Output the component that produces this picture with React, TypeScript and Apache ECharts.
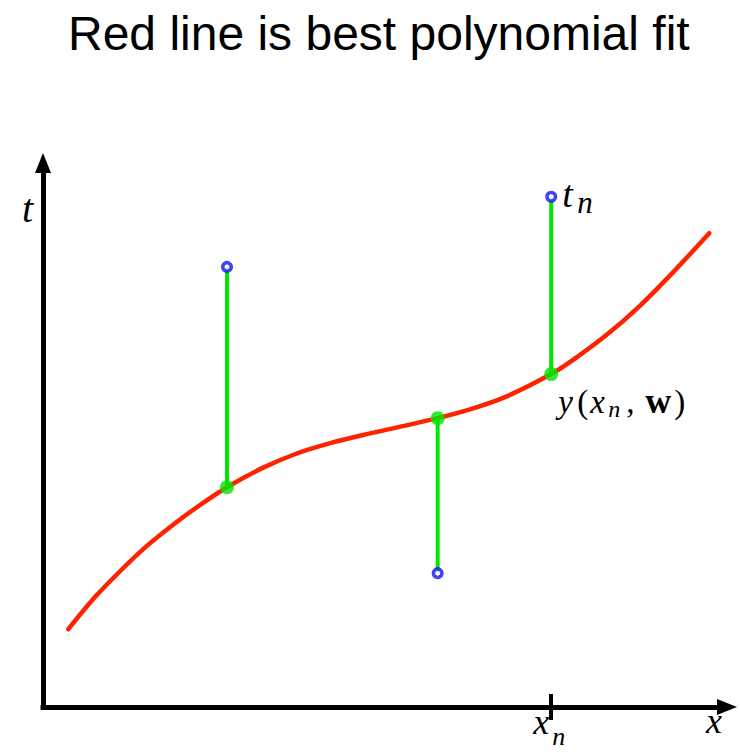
import { useEffect, useRef } from "react";
import * as echarts from "echarts";

// Polynomial fit y(x, w), sampled along the input axis
const fitX = [0.37, 0.76, 1.13, 1.49, 1.86, 2.27, 2.69, 3.22, 3.71, 4.2, 4.68, 5.18, 5.77, 6.29, 6.78, 7.43, 7.75, 8.25, 8.73, 9.21, 9.74];
const fitT = [1.43, 2.02, 2.5, 2.93, 3.31, 3.69, 4.04, 4.4, 4.66, 4.85, 5.0, 5.14, 5.31, 5.49, 5.71, 6.12, 6.38, 6.85, 7.38, 7.99, 8.71];

// Observed targets t_n at the sample inputs x_n
const sampleX = [2.69, 5.77, 7.43];
const sampleT = [8.09, 2.46, 9.38];
// Fitted values y(x_n, w) at the same inputs
const sampleY = [4.04, 5.31, 6.12];

// Sample whose input gets the x_n tick and labels
const labelled = 2;

const titleText = "Red line is best polynomial fit";

const RED = "#ff2200";
const GREEN = "#00e600";
const BLUE = "#1414f0";
const SERIF = '"Liberation Serif", "Times New Roman", serif';

type Piece = { text: string; font: string; size: number; dx: number; dy: number };

const it = (size: number) => `italic ${size}px ${SERIF}`;
const up = (size: number) => `normal ${size}px ${SERIF}`;
const bd = (size: number) => `bold ${size}px ${SERIF}`;

// Places text pieces relative to an anchor pixel; dy is the baseline offset
function pieces(anchor: number[], list: Piece[]) {
  return list.map((p) => ({
    type: "text",
    silent: true,
    x: anchor[0] + p.dx,
    y: anchor[1] + p.dy - 0.34 * p.size,
    style: {
      text: p.text,
      font: p.font,
      fill: "#000",
      align: "left",
      verticalAlign: "middle",
    },
  }));
}

export default function App() {
  const ref = useRef<HTMLDivElement>(null);

  useEffect(() => {
    if (!ref.current) return;
    const chart = echarts.init(ref.current, null, { renderer: "svg" });

    const xTick = [sampleX[labelled]];
    const axisLine = {
      show: true,
      onZero: false,
      symbol: ["none", "triangle"],
      symbolSize: [16, 20],
      lineStyle: { color: "#000", width: 5, cap: "square" },
    };

    const stems = sampleX.map((x, i) => ({
      type: "line",
      silent: true,
      showSymbol: false,
      z: 3,
      data: [
        [x, sampleT[i]],
        [x, sampleY[i]],
      ],
      lineStyle: { color: GREEN, width: 4 },
    }));

    chart.setOption({
      animation: false,
      title: {
        text: titleText,
        left: 63,
        top: 4,
        textStyle: {
          fontFamily: '"Liberation Sans", Arial, sans-serif',
          fontSize: 48,
          fontWeight: "normal",
          color: "#000",
        },
      },
      grid: { left: 43, top: 163, width: 684, height: 544 },
      xAxis: [
        {
          type: "value",
          min: 0,
          max: 10,
          axisLine,
          axisTick: {
            show: true,
            inside: false,
            length: 13,
            customValues: xTick,
            lineStyle: { color: "#000", width: 4 },
          },
          axisLabel: { show: false },
          splitLine: { show: false },
        },
        {
          type: "value",
          min: 0,
          max: 10,
          position: "bottom",
          axisLine: { show: false },
          axisTick: {
            show: true,
            inside: true,
            length: 13,
            customValues: xTick,
            lineStyle: { color: "#000", width: 4 },
          },
          axisLabel: { show: false },
          splitLine: { show: false },
        },
      ],
      yAxis: {
        type: "value",
        min: 0,
        max: 10,
        axisLine,
        axisTick: { show: false },
        axisLabel: { show: false },
        splitLine: { show: false },
      },
      series: [
        {
          type: "line",
          silent: true,
          showSymbol: false,
          smooth: 0.3,
          z: 2,
          data: fitX.map((x, i) => [x, fitT[i]]),
          lineStyle: { color: RED, width: 4.5, cap: "round" },
        },
        ...stems,
        {
          type: "scatter",
          silent: true,
          z: 4,
          symbol: "circle",
          symbolSize: 14,
          data: sampleX.map((x, i) => [x, sampleY[i]]),
          itemStyle: { color: GREEN },
        },
        {
          type: "scatter",
          silent: true,
          z: 5,
          symbol: "circle",
          symbolSize: 8.5,
          data: sampleX.map((x, i) => [x, sampleT[i]]),
          itemStyle: { color: "#fff", borderColor: BLUE, borderWidth: 3.5 },
        },
      ],
    });

    const px = (x: number, t: number) =>
      chart.convertToPixel({ gridIndex: 0 }, [x, t]) as number[];

    const xn = sampleX[labelled];
    const graphic = [
      // axis names
      ...pieces(px(0, 10), [{ text: "t", font: it(40), size: 40, dx: -21, dy: 59 }]),
      ...pieces(px(10, 0), [{ text: "x", font: it(36), size: 36, dx: -21, dy: 26 }]),
      // x_n under the tick
      ...pieces(px(xn, 0), [
        { text: "x", font: it(36), size: 36, dx: -18, dy: 27 },
        { text: "n", font: it(26), size: 26, dx: 1, dy: 38 },
      ]),
      // t_n beside the observed target
      ...pieces(px(xn, sampleT[labelled]), [
        { text: "t", font: it(38), size: 38, dx: 11, dy: 10 },
        { text: "n", font: it(31), size: 31, dx: 26, dy: 16 },
      ]),
      // y(x_n, w) below the fitted value
      ...pieces(px(xn, sampleY[labelled]), [
        { text: "y", font: it(33), size: 33, dx: 7, dy: 39 },
        { text: "(", font: up(33), size: 33, dx: 26, dy: 39 },
        { text: "x", font: it(33), size: 33, dx: 39, dy: 39 },
        { text: "n", font: it(24), size: 24, dx: 57, dy: 43 },
        { text: ",", font: up(33), size: 33, dx: 75, dy: 39 },
        { text: "w", font: bd(36), size: 36, dx: 94, dy: 39 },
        { text: ")", font: up(33), size: 33, dx: 123, dy: 39 },
      ]),
    ];

    chart.setOption({ graphic });

    return () => chart.dispose();
  }, []);

  return (
    <div
      ref={ref}
      style={{ position: "fixed", left: 0, top: 0, width: 741, height: 752, background: "#fff" }}
    />
  );
}
